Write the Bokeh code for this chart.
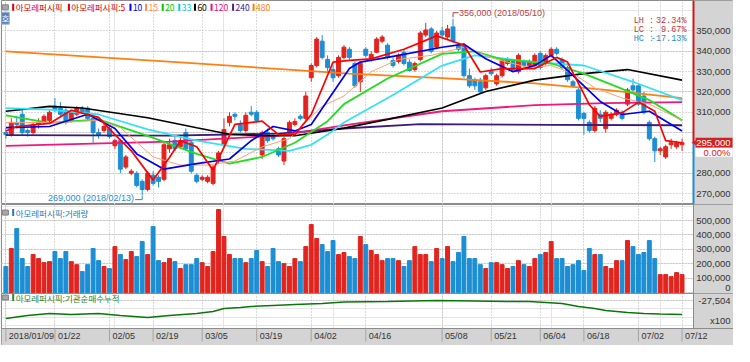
import math
from bokeh.plotting import figure
from bokeh.layouts import column
from bokeh.models import Range1d, FixedTicker, Label, Grid, ColumnDataSource
from bokeh.core.properties import value
from bokeh.embed import file_html
from bokeh.resources import INLINE

# ---------------- data (prices in thousand KRW, volume in thousand shares) ----------------
open_k = [300, 299, 305, 309, 301, 300, 304, 305, 306, 313, 312, 311, 306, 309, 312, 312, 307, 300, 301, 302,
          293.5, 296, 283, 280, 280, 276, 272, 279, 278, 277, 292, 296, 293, 300, 295, 279, 277, 276, 275, 286,
          294, 305, 309, 304, 301, 310, 310, 289, 300, 298, 292, 286, 300, 304, 308, 307, 327, 333, 345, 336,
          331, 328, 337, 341, 334, 325, 341, 336, 339.5, 345, 343, 335.5, 335, 339.5, 334.6, 331, 336, 348, 351, 342,
          350, 347, 352, 343, 343, 328, 326, 325, 322, 330, 324, 328, 334, 335, 330, 335, 333, 333, 339, 334,
          338, 341, 336, 332, 325, 321, 309.5, 305, 301, 309, 302, 307, 309, 310, 314, 323, 323, 318, 305, 297,
          291, 288, 294, 293, 294]
high_k = [302, 307, 308, 312, 302, 305, 307, 309, 311, 317, 315, 312, 311, 313, 313, 313, 309, 302, 305, 303,
          297, 297, 289, 282, 281, 277, 281, 281, 279, 296, 297, 298, 298, 302, 296, 280, 279, 279, 284, 291,
          307, 310, 310, 306, 310, 313, 311, 301, 302, 300, 293, 298, 306, 307, 309, 320, 334, 347, 348, 338,
          333, 338, 343, 342, 335, 335, 342, 340, 347, 348, 344, 337, 339, 341, 336, 335, 350, 354, 352, 350,
          352, 353, 356, 344, 344, 331.5, 327, 327, 329, 332, 329, 337, 337, 336, 339, 336, 336, 339, 340, 339,
          342, 342, 337, 333, 326, 322, 310, 306, 313, 311, 311, 310, 312, 311, 322, 326.5, 324, 320, 306, 298,
          293, 294, 297, 296, 297]
low_k = [297, 298, 302, 299, 298, 299, 302, 304, 305, 310, 308, 304, 305, 308, 309, 306, 295, 297, 300, 297,
         292, 280, 282, 279, 273, 269, 271, 274, 273, 276, 290, 291, 292, 291, 280, 275, 276, 275, 274, 285,
         293, 303, 306, 300, 300, 308, 305, 287, 295, 296, 288, 284, 299, 303, 306, 306, 325, 332, 336, 330,
         325, 327, 336, 336, 322, 320, 337, 335, 339, 344, 336, 332, 334, 333, 330, 330, 335, 347, 339, 341,
         347, 346, 344, 340, 327, 322, 321, 319, 321, 328, 323, 327, 333, 330, 329, 332, 332, 332, 331, 333,
         337, 338, 331, 325, 322, 306, 299, 300, 300, 305, 300, 306, 308, 306, 313, 320, 313, 309, 296, 285.5,
         289, 287, 292, 292, 291]
close_k = [299, 305, 304, 300, 300, 304, 305, 308, 310, 311, 309, 305, 310, 312, 310, 307, 300, 299, 303, 298,
           296, 282, 288, 281, 274, 272, 280, 275, 276, 294, 294, 292, 296, 292, 281, 276, 278, 278, 283, 290,
           301.5, 308, 308, 301, 308.5, 309, 306, 300, 296, 297, 289, 297, 305, 305.5, 307, 318, 333, 346, 337, 332,
           327, 337, 342, 337, 323, 334, 338, 338.5, 346, 347, 337, 333, 338, 334, 330.6, 334, 349, 350.5, 340, 349,
           348, 351, 345, 341, 328, 323, 323, 320, 328, 329, 328, 335.5, 336, 331, 338, 333, 335, 338, 332, 338,
           341, 339, 332, 326, 323, 307, 307, 301, 312, 307, 310, 309, 311, 307, 321, 321, 314, 310, 297, 291,
           292, 293, 295, 295, 295]
volume_k = [181, 306, 444, 236, 181, 264, 236, 208, 215, 285, 236, 285, 215, 194, 146, 194, 306, 222, 181, 167,
            319, 264, 229, 285, 250, 354, 264, 458, 222, 208, 236, 215, 167, 194, 194, 236, 208, 181, 285, 576,
            389, 264, 236, 236, 208, 236, 292, 215, 181, 306, 215, 201, 181, 236, 215, 319, 472, 375, 333, 285,
            361, 264, 278, 250, 236, 389, 333, 292, 264, 222, 236, 236, 222, 181, 222, 319, 264, 264, 215, 306,
            236, 319, 215, 278, 389, 236, 236, 194, 167, 208, 208, 194, 167, 181, 222, 194, 181, 236, 264, 278,
            354, 236, 236, 181, 194, 222, 153, 306, 264, 264, 181, 167, 222, 222, 361, 319, 264, 278, 361, 236,
            125, 125, 111, 139, 125]

# moving averages: (day index, value in thousand KRW)
ma5_x = [0, 2, 8, 12, 17, 20, 23, 27, 30, 32, 35, 38, 42, 47, 50, 53, 56, 60, 63, 67, 73, 79, 84, 87, 91, 97, 101, 103, 107, 109, 113, 116, 119, 121, 124]
ma5_y = [300.8, 303, 304.5, 311, 307.5, 299, 291, 276.6, 287.7, 296, 293, 281.5, 304, 305.6, 299, 299, 308.9, 334.7, 335.5, 336.3, 341, 347.6, 343, 329.8, 331.5, 331.5, 337, 334.7, 313.7, 308, 309.7, 315, 310.5, 296, 295]
ma10_x = [0, 8, 15, 20, 24, 29, 35, 41, 45, 49, 53, 56, 63, 65, 70, 80, 84, 88, 93, 97, 100, 103, 109, 113, 118, 124]
ma10_y = [302.4, 303, 309, 302, 289.5, 282, 284.7, 287, 296, 303, 300.8, 304, 331.5, 334.7, 337, 342, 343.5, 336.3, 330, 333, 338, 330.6, 315.3, 308.9, 310.5, 300.8]
ma15_x = [0, 10, 17, 21, 27, 32, 37, 42, 47, 52, 58, 62, 67, 72, 78, 84, 90, 96, 100, 104, 108, 113, 118, 124]
ma15_y = [305, 305, 306, 302.4, 288, 284, 284, 286, 293, 297, 313, 318, 330, 336, 338, 342, 336, 332, 333, 329, 322, 317, 314, 306]
ma20_x = [0, 8, 17, 26, 35, 41, 47, 53, 59, 62, 70, 80, 86, 91, 100, 106, 112, 118, 124]
ma20_y = [308.5, 304.8, 306.5, 298.4, 289.5, 284.7, 288, 295, 305.6, 314, 326.6, 338.7, 340, 336, 334, 329, 322.6, 316, 306]
ma33_x = [0, 8, 17, 26, 35, 44, 52, 56, 59, 62, 71, 80, 86, 97, 106, 115, 124]
ma33_y = [312, 311.3, 308.9, 301.6, 296, 292, 291, 294, 299, 305, 318.5, 333, 338, 334.7, 333, 325, 316]
ma60_x = [0, 8, 14, 26, 35, 41, 47, 53, 62, 70, 80, 88, 97, 106, 114, 124]
ma60_y = [310.5, 312.9, 312.1, 307.3, 302.4, 299.2, 298.4, 298.4, 302.2, 306.5, 312.1, 320.2, 325.8, 329, 331, 325.8]
ma120_x = [0, 30, 50, 62, 80, 97, 110, 124]
ma120_y = [293.5, 295.5, 298.5, 303.5, 310.5, 313.5, 314.5, 315]
ma240_x = [0, 30, 50, 62, 76, 100, 124]
ma240_y = [298.7, 298.5, 299.5, 302.0, 304.2, 303.8, 303.6]
ma480_x = [0, 32, 63, 80, 97, 110, 124]
ma480_y = [340, 334.5, 329, 326.8, 324.2, 321, 317]

# institutional cumulative net buying (x100 shares)
cum_x = [0, 4, 8, 12, 17, 21, 26, 30, 35, 38, 40, 43, 45, 49, 53, 58, 62, 70, 79, 86, 92, 96, 99, 102, 105, 108, 110, 114, 117, 120, 124]
cum_y = [-28584, -28404, -28284, -28344, -28284, -28404, -28524, -28404, -28284, -28164, -27984, -27924, -27864, -27804,
         -27744, -27684, -27594, -27564, -27504, -27534, -27564, -27564, -27624, -27684, -27864, -27984, -28104, -28224,
         -28284, -28314, -28344]

tick_idx = [0, 9, 19, 27, 36, 46, 56, 66, 80, 89, 98, 106, 116, 124]
tick_lbl = ["2018/01/09", "01/22", "02/05", "02/19", "03/05", "03/19", "04/02", "04/16",
            "05/08", "05/21", "06/04", "06/18", "07/02", "07/12"]
price_ticks_k = [270, 280, 290, 300, 310, 320, 330, 340, 350]
vol_ticks_k = [0, 100, 200, 300, 400, 500]
hi_date = "2018/05/10"
lo_date = "2018/02/13"

legend_names = ["아모레퍼시픽", "아모레퍼시픽:5", "10", "15", "20", "33", "60", "120", "240", "480"]
legend_colors = ["#e00000", "#e00000", "#0000ff", "#ff8a50", "#00cc00", "#00c8e8", "#000000", "#e8107a", "#4a2088", "#ff8000"]

# ---------------- styling / layout ----------------
RED = "#e2241e"
BLUE = "#1c8ed3"
GRAY = "#d4d4d4"
GRID = "#b4b4b4"
EDGE = "#8c8c8c"
TXT = "#333333"
AXFONT = "Liberation Sans"
KFONT = "Noto Sans CJK KR"

W = 733
FRAME_W = W - 1          # plot frame width in px (1px left border)
CHART_W = 692            # candle area width in px; the rest is the scale column
X0, X1 = -0.8, 126.1
UPP = (X1 - X0) / CHART_W          # data units per px
X_END = X0 + FRAME_W * UPP
xr = Range1d(X0, X_END)

PRICE_H = 204
PRICE_LO, PRICE_HI = 264600, 365000
VOL_H = 89
VOL_LO, VOL_HI = -6000, 611000
CUM_PANE_H, BAND_H = 35, 17
CUM_LO, CUM_HI = -29184, -27084
CUM_UPP = (CUM_HI - CUM_LO) / CUM_PANE_H
CUM_BOT = CUM_LO - BAND_H * CUM_UPP


def px2x(px):
    # reference-pixel helper for overlay text layout
    return (px - 6.5) / 5.58


def make_fig(h, ylo, yhi, yticks):
    f = figure(width=W, height=h, x_range=xr, y_range=Range1d(ylo, yhi), output_backend="svg",
               toolbar_location=None, title=None, x_axis_location=None, y_axis_location=None,
               min_border_left=1, min_border_right=0, min_border_top=0, min_border_bottom=0,
               background_fill_color="white", border_fill_color=GRAY, outline_line_color=EDGE)
    f.add_layout(Grid(dimension=0, ticker=FixedTicker(ticks=tick_idx),
                      grid_line_color=GRID, grid_line_dash="1 2"))
    f.add_layout(Grid(dimension=1, ticker=FixedTicker(ticks=yticks),
                      grid_line_color=GRID, grid_line_dash="1 2"))
    # price-scale column on the right
    f.quad(left=[X1], right=[X_END], bottom=[ylo], top=[yhi], fill_color=GRAY, line_color=None)
    f.segment(x0=[X1], y0=[ylo], x1=[X1], y1=[yhi], line_color=EDGE, line_width=1)
    return f


def scale_labels(f, ys, labels):
    f.text(x=[X_END - 3 * UPP] * len(ys), y=ys, text=labels, text_color=TXT,
           text_font=value(AXFONT), text_font_size=value("9.5px"), text_baseline="middle",
           text_align="right")


def pane_title(f, y, text, color):
    f.rect(x=[px2x(6)], y=[y], width=6, height=5, width_units="screen", height_units="screen",
           fill_color="#a8a8a8", line_color="#808080")
    f.rect(x=[px2x(14)], y=[y], width=2, height=7, width_units="screen", height_units="screen",
           fill_color=color, line_color=None)
    f.text(x=[px2x(16.5)], y=[y], text=[text], text_color=color, text_font=value(KFONT),
           text_font_size=value("8.5px"), text_baseline="middle", text_align="left")


# ---------------- price pane ----------------
last = close_k[-1]
last_v = last * 1000
price_ticks = [t * 1000 for t in price_ticks_k]
# the tick hidden behind the current-price box is not labelled
price_lbl_ticks = [t for t in price_ticks if abs(t - last_v) > 6000]
p = make_fig(PRICE_H, PRICE_LO, PRICE_HI, price_ticks)
scale_labels(p, price_lbl_ticks, [f"{t:,.0f}" for t in price_lbl_ticks])

idx = list(range(len(close_k)))
up = [c >= o for o, c in zip(open_k, close_k)]
cols = [RED if u else BLUE for u in up]
src = ColumnDataSource(dict(
    x=idx,
    h=[v * 1000 for v in high_k], l=[v * 1000 for v in low_k],
    top=[max(o, c) * 1000 for o, c in zip(open_k, close_k)],
    bot=[min(o, c) * 1000 for o, c in zip(open_k, close_k)],
    vol=[v * 1000 for v in volume_k], color=cols))

p.segment(x0="x", y0="h", x1="x", y1="l", line_color="color", line_width=1, source=src)
p.vbar(x="x", top="top", bottom="bot", width=0.72, fill_color="color", line_color="color", source=src)

for xs, ys, c, w in [(ma480_x, ma480_y, "#ff7f10", 1.8), (ma240_x, ma240_y, "#3d1a78", 1.8),
                     (ma120_x, ma120_y, "#f0187a", 1.8), (ma60_x, ma60_y, "#000000", 1.6),
                     (ma33_x, ma33_y, "#33e2f5", 1.8), (ma20_x, ma20_y, "#22dd22", 1.8),
                     (ma15_x, ma15_y, "#ffa070", 1.0), (ma10_x, ma10_y, "#0000ee", 1.7),
                     (ma5_x, ma5_y, "#ff0000", 1.7)]:
    p.line([float(x) for x in xs], [v * 1000 for v in ys], line_color=c, line_width=w)

# legend row
leg_y = 361650
leg_px = [14, 71, 134, 150, 167, 184, 200, 217, 239, 260]
p.rect(x=[px2x(6)], y=[leg_y], width=6, height=5, width_units="screen", height_units="screen",
       fill_color="#a8a8a8", line_color="#808080")
p.rect(x=[px2x(px) for px in leg_px], y=[leg_y] * len(leg_px), width=2, height=7,
       width_units="screen", height_units="screen", fill_color=legend_colors, line_color=None)
p.text(x=[px2x(px + 2.5) for px in leg_px], y=[leg_y] * len(leg_px), text=legend_names,
       text_color=legend_colors, text_font=value(KFONT), text_font_size=value("8.5px"),
       text_baseline="middle", text_align="left")

p.add_layout(Label(x=X0, y=356300, text="호", text_color="white", text_font=KFONT,
                   text_font_size="8.5px", text_baseline="middle", text_align="left",
                   background_fill_color="#5a82b4", border_line_color="#9db8d8"))

# high / low annotations
hi_i = max(idx, key=lambda i: high_k[i])
lo_i = min(idx, key=lambda i: low_k[i])
hi_v = high_k[hi_i] * 1000
lo_v = low_k[lo_i] * 1000
HI_COL = "#c23b3b"
LO_COL = "#2a8ad0"
p.segment(x0=[hi_i, hi_i], y0=[hi_v + 700, 359000], x1=[hi_i, hi_i + 1.0], y1=[359000, 359000],
          line_color=HI_COL, line_width=1)
p.text(x=[hi_i + 1.1], y=[359000], text=[f"{hi_v:,.0f} ({hi_date})"], text_color=HI_COL,
       text_font=value(AXFONT), text_font_size=value("9px"), text_baseline="middle", text_align="left")
p.segment(x0=[lo_i - 1.3, lo_i], y0=[267000, 267000], x1=[lo_i, lo_i], y1=[267000, lo_v - 300],
          line_color=LO_COL, line_width=1)
p.text(x=[lo_i - 1.5], y=[268000], text=[f"{lo_v:,.0f} ({lo_date})"], text_color=LO_COL,
       text_font=value(AXFONT), text_font_size=value("9px"), text_baseline="middle", text_align="right")

# LH / LC / HC
lh = (max(high_k) / min(low_k) - 1) * 100
lc = (last / min(low_k) - 1) * 100
hc = (last / max(high_k) - 1) * 100
stat_names = ["LH :", "LC :", "HC :"]
stat_vals = [f"{lh:.2f}%", f"{lc:.2f}%", f"{hc:.2f}%"]
stat_cols = ["#c83232", "#c83232", "#2a8ac8"]
stat_y = [354850 - k * 4370 for k in range(3)]
p.text(x=[px2x(649)] * 3, y=stat_y, text=stat_names, text_color=stat_cols, text_font=value("Liberation Mono"),
       text_font_size=value("8.5px"), text_baseline="middle", text_align="left")
p.text(x=[px2x(703)] * 3, y=stat_y, text=stat_vals, text_color=stat_cols, text_font=value("Liberation Mono"),
       text_font_size=value("8.5px"), text_baseline="middle", text_align="right")

# current price marker in the scale column
chg = (close_k[-1] / close_k[-2] - 1) * 100
ppx = (PRICE_HI - PRICE_LO) / PRICE_H
p.segment(x0=[X1, X1], y0=[last_v, PRICE_LO], x1=[X1, X1], y1=[PRICE_HI, last_v],
          line_color=["#d01818", BLUE], line_width=2)
p.quad(left=[X1 + 2 * UPP], right=[X_END - 1 * UPP], bottom=[last_v - 5 * ppx], top=[last_v + 5 * ppx],
       fill_color="#d42020", line_color=None)
p.quad(left=[X1 + 2 * UPP], right=[X_END - 1 * UPP], bottom=[last_v - 14 * ppx], top=[last_v - 5 * ppx],
       fill_color="white", line_color=None)
p.scatter(x=[X1 + 1.5 * UPP], y=[last_v], marker="triangle", angle=math.pi / 2, size=6,
          fill_color="#d42020", line_color=None)
p.text(x=[X_END - 3 * UPP], y=[last_v], text=[f"{last_v:,.0f}"], text_color="white",
       text_font=value(AXFONT), text_font_size=value("9.5px"), text_baseline="middle", text_align="right")
p.text(x=[X_END - 3 * UPP], y=[last_v - 9.5 * ppx], text=[f"{chg:.2f}%"], text_color="#d42020",
       text_font=value(AXFONT), text_font_size=value("9.5px"), text_baseline="middle", text_align="right")

# ---------------- volume pane ----------------
vol_ticks = [t * 1000 for t in vol_ticks_k]
vpx = (VOL_HI - VOL_LO) / VOL_H
v = make_fig(VOL_H, VOL_LO, VOL_HI, vol_ticks)
# keep the bottom label inside the pane
scale_labels(v, [max(t, VOL_LO + 5.5 * vpx) for t in vol_ticks], [f"{t:,.0f}" for t in vol_ticks])
v.vbar(x="x", top="vol", bottom=0, width=0.72, fill_color="color", line_color="color", source=src)
pane_title(v, 555000, "아모레퍼시픽:거래량", "#2a7ab8")

# ---------------- cumulative institutional pane + date band ----------------
cum_tick = [max(cum_y)]
c = make_fig(CUM_PANE_H + BAND_H, CUM_BOT, CUM_HI, cum_tick)
scale_labels(c, cum_tick, [f"{t:,.0f}" for t in cum_tick])
c.line([float(x) for x in cum_x], cum_y, line_color="#087808", line_width=1.5)
pane_title(c, -27324, "아모레퍼시픽:기관순매수누적", "#2a8a2a")
c.text(x=[X_END - 3 * UPP], y=[CUM_LO + 3 * CUM_UPP], text=["x100"], text_color=TXT,
       text_font=value(AXFONT), text_font_size=value("9.5px"), text_baseline="bottom", text_align="right")
# date band
c.quad(left=[X0], right=[X_END], bottom=[CUM_BOT], top=[CUM_LO], fill_color=GRAY, line_color=None)
c.segment(x0=[X0], y0=[CUM_LO], x1=[X_END], y1=[CUM_LO], line_color=EDGE, line_width=1)
c.segment(x0=tick_idx, y0=[CUM_LO] * len(tick_idx), x1=tick_idx, y1=[CUM_LO - 13 * CUM_UPP] * len(tick_idx),
          line_color="#a4a4a4", line_width=1)
c.text(x=[t + 3 * UPP for t in tick_idx], y=[CUM_LO - 2 * CUM_UPP] * len(tick_idx), text=tick_lbl,
       text_color=TXT, text_font=value(AXFONT), text_font_size=value("9px"),
       text_baseline="top", text_align="left")

layout = column(p, v, c, spacing=0)
open("out.html", "w").write(file_html(layout, INLINE))
